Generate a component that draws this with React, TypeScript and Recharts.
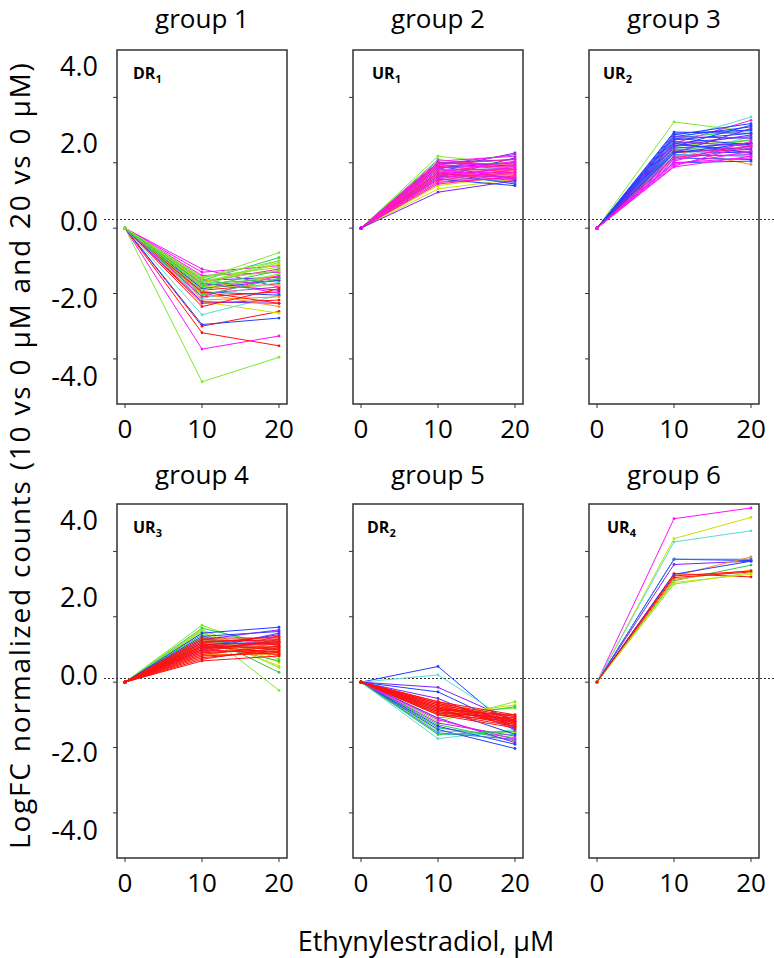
import { LineChart, Line, XAxis, YAxis, ReferenceArea } from 'recharts'

// doses (uM) on the x axis and y tick values
const doses = [0, 10, 20]
const xTicks = [0, 10, 20]
const yTicks = [-4, -2, 0, 2, 4]

// logFC of each gene at [10 uM, 20 uM]; every profile starts at 0 for 0 uM
const group1: [number, number][] = [
  [-4.7, -3.95], [-3.7, -3.3], [-3.2, -3.6], [-3.0, -2.55], [-2.95, -2.75], [-2.25, -2.6],
  [-2.65, -2.05], [-1.25, -1.8], [-1.45, -1.35], [-1.6, -1.5], [-1.75, -1.6], [-1.9, -1.7],
  [-1.85, -1.45], [-2.0, -1.8], [-1.7, -1.9], [-2.1, -1.95], [-1.55, -2.0], [-1.95, -2.05],
  [-2.2, -2.1], [-2.3, -2.2], [-2.15, -1.65], [-1.8, -1.75], [-1.65, -1.25], [-2.25, -2.3],
  [-2.4, -1.85], [-1.35, -1.15], [-2.0, -2.4], [-1.85, -1.6], [-2.1, -1.45], [-1.95, -2.3],
  [-1.65, -1.1], [-1.55, -0.75], [-1.6, -0.9], [-1.7, -1.0], [-1.5, -1.2], [-1.8, -1.3],
  [-2.05, -1.55], [-1.9, -1.4], [-1.75, -1.05], [-1.6, -1.3], [-1.7, -1.55], [-1.5, -1.0],
]
const group2: [number, number][] = [
  [2.2, 1.95], [2.1, 1.8], [1.2, 1.5], [1.3, 1.6], [1.4, 1.7], [1.5, 1.3],
  [1.7, 1.35], [1.6, 1.4], [1.9, 1.5], [1.8, 2.3], [2.0, 2.1], [1.95, 2.25],
  [1.85, 2.0], [2.0, 1.9], [1.75, 1.85], [1.65, 1.55], [1.55, 2.15], [2.05, 2.2],
  [1.9, 2.0], [1.8, 1.8], [1.7, 1.7], [1.6, 1.6], [1.5, 1.5], [1.4, 1.55],
  [1.95, 2.1], [1.85, 1.9], [1.75, 1.75], [1.65, 1.65], [1.55, 1.7], [1.45, 1.8],
  [1.35, 1.6], [2.0, 1.95], [1.7, 2.05], [1.6, 1.85], [1.8, 1.5], [1.9, 1.7],
  [1.5, 1.9], [1.7, 1.45], [1.95, 1.8], [1.1, 1.45],
]
const group3: [number, number][] = [
  [3.25, 2.95], [2.7, 3.4], [2.6, 3.3], [2.75, 3.0], [2.5, 2.7], [2.6, 2.6],
  [2.4, 1.95], [2.3, 2.5], [2.2, 2.8], [2.45, 2.45], [2.35, 2.7], [2.94, 2.9],
  [2.85, 3.2], [2.8, 3.1], [2.7, 2.9], [2.6, 2.8], [2.5, 3.15], [2.45, 2.6],
  [2.35, 2.3], [2.25, 2.2], [2.15, 2.1], [2.8, 2.75], [2.65, 2.5], [2.55, 2.4],
  [2.4, 2.35], [2.3, 3.05], [2.2, 2.25], [2.1, 2.45], [2.75, 2.55], [2.9, 3.0],
  [2.5, 2.85], [2.6, 2.3], [2.0, 2.05], [2.3, 2.6], [2.05, 2.65], [1.95, 2.35],
  [1.9, 2.55], [2.0, 2.15], [2.15, 2.5], [1.87, 2.2],
]
const group4: [number, number][] = [
  [1.74, 0.9], [1.65, 1.1], [1.6, 0.7], [1.55, 0.6], [1.5, 0.45], [1.45, 0.3],
  [1.58, -0.25], [1.4, 0.5], [1.35, 0.8], [1.3, 1.0], [1.2, 0.65], [1.2, 1.3],
  [1.5, 1.68], [1.4, 1.55], [1.3, 1.6], [1.1, 1.45], [1.25, 1.2], [1.0, 1.5],
  [0.9, 1.4], [0.85, 0.85], [0.8, 1.2], [1.35, 1.35], [1.3, 1.25], [1.25, 1.3],
  [1.2, 1.15], [1.15, 1.2], [1.1, 1.1], [1.05, 1.05], [1.0, 1.25], [0.95, 0.95],
  [0.9, 1.0], [0.85, 1.1], [0.8, 0.9], [0.75, 0.95], [0.7, 1.05], [1.2, 1.4],
  [1.1, 0.9], [0.95, 1.3], [1.0, 0.85], [0.65, 0.8], [1.15, 1.0], [1.05, 1.2],
]
const group5: [number, number][] = [
  [0.48, -1.5], [0.22, -1.3], [-0.16, -1.2], [-0.3, -1.4], [-1.2, -0.6], [-1.0, -0.7],
  [-0.9, -0.8], [-1.1, -0.75], [-1.4, -1.7], [-1.5, -1.55], [-1.73, -1.45], [-1.6, -1.6],
  [-1.3, -1.8], [-1.45, -2.03], [-1.35, -1.9], [-1.55, -1.75], [-1.1, -1.85], [-1.25, -1.65],
  [-1.15, -1.75], [-1.6, -1.5], [-0.8, -1.6], [-0.5, -1.45], [-0.6, -1.0], [-0.65, -1.05],
  [-0.7, -1.1], [-0.75, -1.15], [-0.8, -1.2], [-0.85, -1.25], [-0.9, -1.3], [-0.95, -1.35],
  [-1.0, -1.4], [-0.7, -1.3], [-0.8, -1.05], [-0.9, -1.15], [-0.65, -1.25], [-1.0, -1.2],
  [-0.75, -1.35], [-0.85, -1.0], [-0.95, -1.1], [-0.6, -1.2],
]
const group6: [number, number][] = [
  [5.0, 5.33], [4.39, 5.04], [4.29, 4.63], [3.76, 3.72], [3.76, 3.76], [3.6, 3.7],
  [3.1, 3.58], [3.25, 3.83], [3.15, 3.42], [3.32, 3.22], [3.2, 3.37], [3.3, 3.7],
  [3.0, 3.35], [3.05, 3.3], [3.25, 3.4],
]

// line colours, same order as the rows above
const group1Colors = [
  'L', 'M', 'R', 'R', 'B', 'Y', 'C', 'M', 'M', 'P', 'V', 'R',
  'O', 'K', 'P', 'R', 'M', 'B', 'O', 'R', 'C', 'Y', 'K', 'P',
  'R', 'M', 'O', 'B', 'M', 'R', 'Y', 'L', 'G', 'L', 'L', 'G',
  'G', 'L', 'L', 'L', 'G', 'L',
]
const group2Colors = [
  'L', 'G', 'Y', 'Y', 'O', 'B', 'B', 'S', 'B', 'P', 'P', 'V',
  'B', 'B', 'C', 'P', 'B', 'M', 'M', 'M', 'M', 'M', 'M', 'M',
  'K', 'K', 'K', 'K', 'K', 'K', 'K', 'K', 'M', 'K', 'M', 'K',
  'M', 'K', 'M', 'P',
]
const group3Colors = [
  'L', 'C', 'M', 'G', 'L', 'Y', 'O', 'R', 'C', 'C', 'G', 'B',
  'B', 'B', 'B', 'S', 'B', 'B', 'B', 'S', 'B', 'P', 'P', 'P',
  'V', 'P', 'V', 'V', 'B', 'B', 'P', 'B', 'B', 'B', 'M', 'M',
  'M', 'M', 'K', 'M',
]
const group4Colors = [
  'L', 'G', 'L', 'Y', 'L', 'G', 'L', 'Y', 'G', 'L', 'G', 'C',
  'B', 'B', 'P', 'B', 'S', 'P', 'M', 'O', 'O', 'R', 'R', 'R',
  'R', 'R', 'R', 'R', 'R', 'R', 'R', 'R', 'R', 'R', 'R', 'R',
  'R', 'R', 'R', 'R', 'R', 'R',
]
const group5Colors = [
  'B', 'C', 'P', 'B', 'L', 'Y', 'L', 'G', 'G', 'L', 'C', 'C',
  'G', 'B', 'B', 'S', 'P', 'V', 'M', 'G', 'B', 'P', 'R', 'R',
  'R', 'R', 'R', 'R', 'R', 'R', 'R', 'R', 'R', 'R', 'R', 'R',
  'R', 'R', 'R', 'R',
]
const group6Colors = ['M', 'Y', 'C', 'B', 'S', 'P', 'G', 'O', 'O', 'R', 'R', 'B', 'L', 'Y', 'R']

const hue: Record<string, string> = {
  R: '#ff1010', O: '#ff8c1a', Y: '#cfe000', L: '#80e830', G: '#2ec84a', C: '#55e0d0',
  B: '#2040ff', S: '#3a78d8', P: '#7a22ff', V: '#a830e0', M: '#ff10ff', K: '#ff2090',
}

const FONT = "'Open Sans', sans-serif"
const INK = '#333'
const BOX_W = 170
const BOX_H = 354
const X_DOMAIN: [number, number] = [-1.04, 21.04]
const Y_DOMAIN: [number, number] = [-5.38, 5.45]

const panels = [
  { title: 'group 1', tag: 'DR', sub: '1', left: 117, top: 50, titleTop: 0, tagDx: 16, pairs: group1, colors: group1Colors },
  { title: 'group 2', tag: 'UR', sub: '1', left: 353, top: 50, titleTop: 0, tagDx: 19, pairs: group2, colors: group2Colors },
  { title: 'group 3', tag: 'UR', sub: '2', left: 589, top: 50, titleTop: 0, tagDx: 14, pairs: group3, colors: group3Colors },
  { title: 'group 4', tag: 'UR', sub: '3', left: 117, top: 504, titleTop: 456, tagDx: 16, pairs: group4, colors: group4Colors },
  { title: 'group 5', tag: 'DR', sub: '2', left: 353, top: 504, titleTop: 456, tagDx: 14, pairs: group5, colors: group5Colors },
  { title: 'group 6', tag: 'UR', sub: '4', left: 589, top: 504, titleTop: 456, tagDx: 18, pairs: group6, colors: group6Colors },
]

function buildRows(pairs: [number, number][]) {
  return doses.map((dose, k) => {
    const row: Record<string, number> = { dose }
    pairs.forEach((p, i) => {
      row['s' + i] = k === 0 ? 0 : p[k - 1]
    })
    return row
  })
}

// the printed labels sit a bit more spread out than the tick marks
function YTick(props: any) {
  const { x, y, payload } = props
  const v = payload.value as number
  return (
    <text x={x} y={y - 8 - 6.05 * v} textAnchor="end" dominantBaseline="central"
      fontSize={27} fontFamily={FONT} fill="#000">
      {v.toFixed(1)}
    </text>
  )
}

function Panel({ p, first }: { p: (typeof panels)[number]; first: boolean }) {
  const rows = buildRows(p.pairs)
  const yw = first ? 110 : 20
  return (
    <>
      <div style={{ position: 'absolute', left: p.left, top: p.titleTop, width: BOX_W, textAlign: 'center', fontSize: 26, whiteSpace: 'nowrap' }}>
        {p.title}
      </div>
      <div style={{ position: 'absolute', left: p.left - yw, top: p.top - 4 }}>
        <LineChart width={yw + BOX_W + 24} height={4 + BOX_H + 50} data={rows}
          margin={{ top: 4, right: 24, bottom: 0, left: 0 }}>
          <XAxis dataKey="dose" type="number" domain={X_DOMAIN} ticks={xTicks} allowDataOverflow
            height={50} tickSize={4} tickMargin={12} axisLine={false}
            tickLine={{ stroke: INK }} tick={{ fontSize: 26, fontFamily: FONT, fill: '#000' }} />
          <YAxis type="number" domain={Y_DOMAIN} ticks={yTicks} allowDataOverflow width={yw}
            tickSize={4} tickMargin={15} axisLine={false} tickLine={{ stroke: INK }}
            tick={first ? YTick : () => <g />} />
          <ReferenceArea x1={X_DOMAIN[0]} x2={X_DOMAIN[1]} y1={Y_DOMAIN[0]} y2={Y_DOMAIN[1]}
            fill="none" fillOpacity={0} stroke={INK} strokeWidth={1.5} ifOverflow="visible" />
          {p.pairs.map((_, i) => {
            const c = hue[p.colors[i % p.colors.length]]
            return (
              <Line key={i} dataKey={'s' + i} stroke={c} strokeWidth={1}
                dot={{ r: 1.4, fill: c, stroke: c, strokeWidth: 0 }}
                activeDot={false} isAnimationActive={false} />
            )
          })}
        </LineChart>
      </div>
      <div style={{ position: 'absolute', left: p.left + p.tagDx, top: p.top + 29 - 14.2, fontSize: 16, lineHeight: '16px', fontWeight: 700 }}>
        {p.tag}<sub style={{ fontSize: 11 }}>{p.sub}</sub>
      </div>
    </>
  )
}

export default function App() {
  return (
    <div style={{ position: 'absolute', left: 0, top: 0, width: 774, height: 958, background: '#fff', overflow: 'hidden', fontFamily: FONT, color: '#000' }}>
      {[219, 678].map((y) => (
        <div key={y} style={{ position: 'absolute', left: 104, top: y, width: 670, height: 1, backgroundImage: `repeating-linear-gradient(to right, ${INK} 0 2px, transparent 2px 4px)` }} />
      ))}
      {panels.map((p, i) => (
        <Panel key={p.title} p={p} first={i % 3 === 0} />
      ))}
      <div style={{ position: 'absolute', left: 0, top: 455 - 420, height: 840, fontSize: 28, letterSpacing: 1.8, textAlign: 'center', whiteSpace: 'nowrap', writingMode: 'vertical-rl', transform: 'rotate(180deg)' }}>
        LogFC normalized counts (10 vs 0 µM and 20 vs 0 µM)
      </div>
      <div style={{ position: 'absolute', left: 226, top: 926.5, width: 400, textAlign: 'center', fontSize: 27, lineHeight: '27px', whiteSpace: 'nowrap' }}>
        Ethynylestradiol, µM
      </div>
    </div>
  )
}
